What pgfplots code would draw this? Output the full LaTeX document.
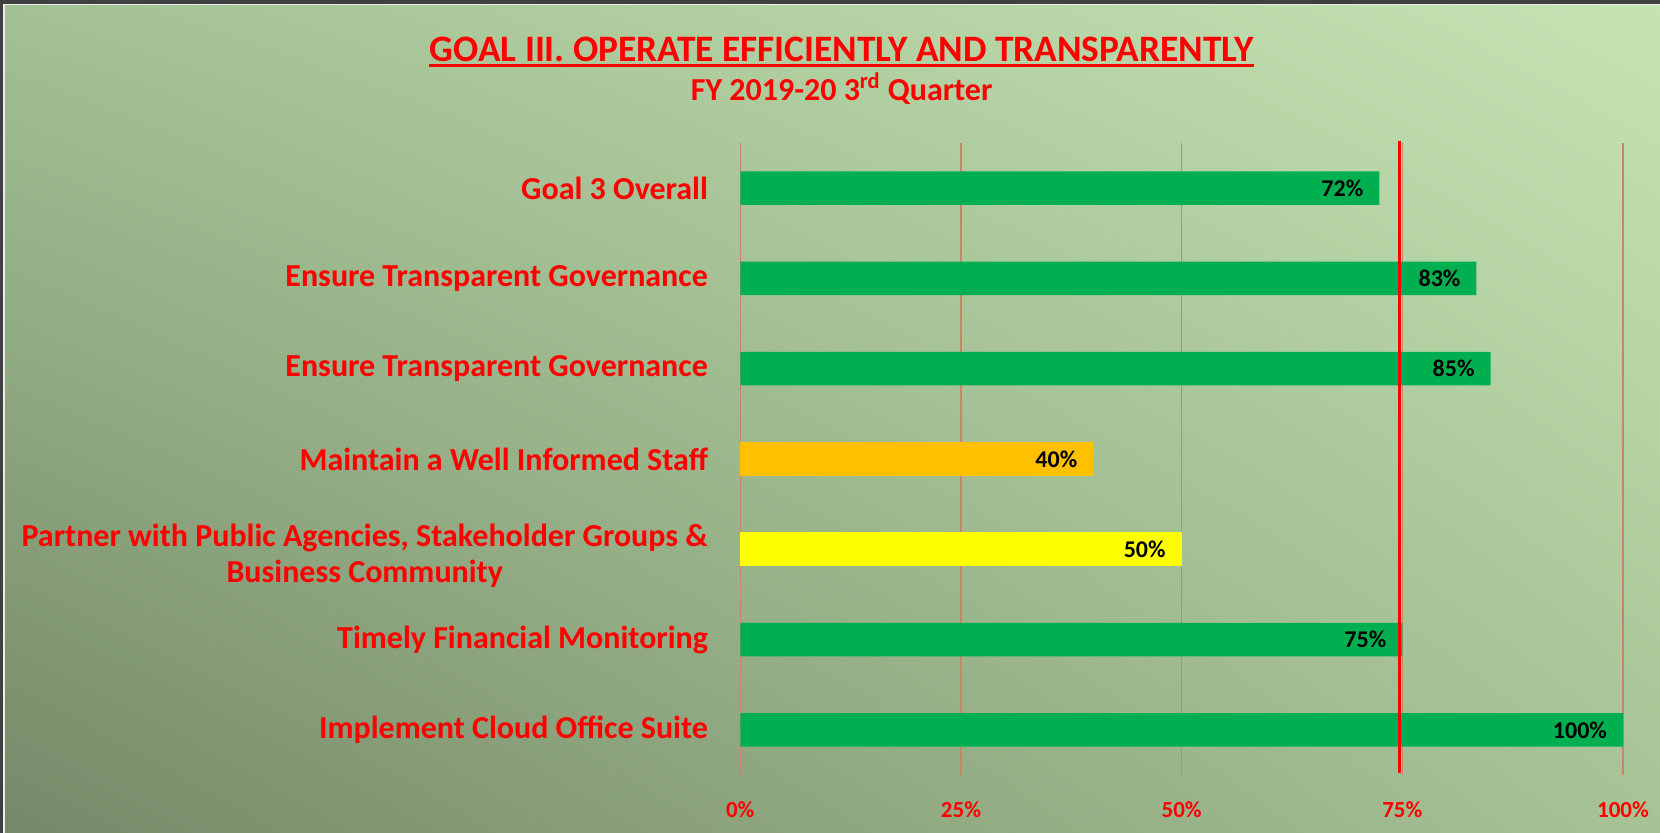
\documentclass[border=0pt]{standalone}
\usepackage{fontspec}
\setmainfont{Carlito}
\usepackage{pgfplots}
\pgfplotsset{compat=1.18}
\usetikzlibrary{shadings}
\definecolor{bgLL}{HTML}{758968}
\definecolor{bgLR}{HTML}{A7C395}
\definecolor{bgUL}{HTML}{A3C194}
\definecolor{bgUR}{HTML}{C5E3B3}
\definecolor{gridc}{HTML}{CC8468}
\definecolor{xlgreen}{HTML}{00B050}
\definecolor{xlorange}{HTML}{FFC000}
\definecolor{xlyellow}{HTML}{FFFF00}
\pgfplotsset{
  barlabels/.style={
    point meta=x,
    nodes near coords={\pgfmathprintnumber[fixed,precision=0]{\pgfplotspointmeta}\%},
    /pgf/number format/assume math mode=true,
    every node near coord/.append style={anchor=east, xshift=-4.5pt, text=black,
      font=\fontsize{12}{14}\selectfont\bfseries},
  }
}
\begin{document}
\begin{tikzpicture}
\useasboundingbox (0,0) rectangle (830pt,416.5pt);
\shade[lower left=bgLL, lower right=bgLR, upper left=bgUL, upper right=bgUR] (0,0) rectangle (830pt,416.5pt);
\fill[black!75] (0,414.5pt) rectangle (830pt,416.5pt);
\fill[black!75] (0,0) rectangle (1.5pt,416.5pt);
\draw[white!85!gray, line width=0.6pt] (2pt,0) -- (2pt,414.1pt) -- (830pt,414.1pt);

\node[anchor=base, inner sep=0pt, text=red, font=\fontsize{18.65}{22}\selectfont\bfseries] (t) at (420.8pt,385.5pt) {GOAL III. OPERATE EFFICIENTLY AND TRANSPARENTLY};
\draw[red, line width=1.4pt] ([yshift=-1.9pt]t.base west) -- ([yshift=-1.9pt]t.base east);
\node[anchor=base, inner sep=0pt, text=red, font=\fontsize{16}{18}\selectfont\bfseries] at (420.8pt,366.2pt) {FY 2019-20 3\textsuperscript{rd} Quarter};

\begin{axis}[at={(370.15pt,29pt)}, anchor=south west, scale only axis,
  width=441.35pt, height=316.05pt,
  xbar, bar width=16.75pt,
  xmin=0, xmax=100, ymin=-0.5, ymax=6.5,
  axis line style={draw=none}, major tick length=0pt,
  xtick={0,25,50,75,100}, xticklabels={0\%,25\%,50\%,75\%,100\%},
  xmajorgrids, major grid style={draw=gridc, line width=0.75pt},
  xticklabel style={text=red, font=\fontsize{11.5}{14}\selectfont\bfseries, inner sep=0pt, anchor=north, yshift=-13pt},
  ytick={0,1,2,3,4,5,6},
  yticklabels={{Implement Cloud Office Suite},{Timely Financial Monitoring},{\fontsize{16}{18}\selectfont\rule{0pt}{18pt}Partner with Public Agencies, Stakeholder Groups \&\\Business Community},{Maintain a Well Informed Staff},{Ensure Transparent Governance},{Ensure Transparent Governance},{Goal 3 Overall}},
  yticklabel style={text=red, font=\fontsize{16}{18}\selectfont\bfseries, align=center, anchor=east, inner sep=0pt, xshift=-16pt},
  clip=false,
]
\addplot[fill=xlgreen, draw=none, bar shift=0pt, barlabels] coordinates {(100,0) (75,1) (85,4) (83.4,5) (72.4,6)};
\addplot[fill=xlyellow, draw=none, bar shift=0pt, barlabels] coordinates {(50,2)};
\addplot[fill=xlorange, draw=none, bar shift=0pt, barlabels] coordinates {(40,3)};
\addplot[sharp plot, red, line width=1.5pt, forget plot] coordinates {(74.7,6.52) (74.7,-0.48)};
\end{axis}
\end{tikzpicture}
\end{document}
